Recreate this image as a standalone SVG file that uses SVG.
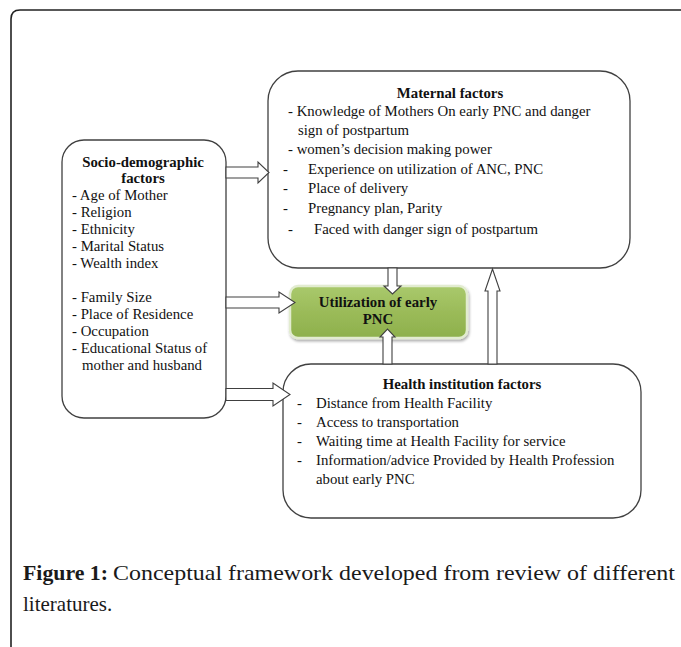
<svg xmlns="http://www.w3.org/2000/svg" width="681" height="647" viewBox="0 0 681 647">
<defs>
<style>
.box{fill:#fff;stroke:#404040;stroke-width:1.3}
.arr{fill:#fff;stroke:#404040;stroke-width:1.1;stroke-linejoin:miter}
text{font-family:"Liberation Serif","Times New Roman",serif;font-size:14.8px;fill:#111}
.t{font-weight:bold;text-anchor:middle}
.cap{font-size:21px;fill:#1a1a1a}
</style>
<linearGradient id="g" x1="0" y1="0" x2="0" y2="1">
<stop offset="0" stop-color="#a9c96c"/>
<stop offset="0.5" stop-color="#9bbb59"/>
<stop offset="1" stop-color="#8db04c"/>
</linearGradient>
<filter id="sh" x="-10%" y="-20%" width="120%" height="140%">
<feGaussianBlur in="SourceAlpha" stdDeviation="1.5"/>
<feOffset dx="1" dy="2"/>
<feComponentTransfer><feFuncA type="linear" slope="0.35"/></feComponentTransfer>
<feMerge><feMergeNode/><feMergeNode in="SourceGraphic"/></feMerge>
</filter>
</defs>
<rect width="681" height="647" fill="#fff"/>
<path d="M11 647 V19 Q11 10 20 10 H681" fill="none" stroke="#222" stroke-width="1.6"/>

<g id="socio">
<rect class="box" x="62" y="140" width="164" height="278" rx="22"/>
<text class="t" x="143" y="167">Socio-demographic</text>
<text class="t" x="143" y="183">factors</text>
<text x="72" y="200">- Age of Mother</text>
<text x="72" y="217">- Religion</text>
<text x="72" y="234">- Ethnicity</text>
<text x="72" y="251">- Marital Status</text>
<text x="72" y="268">- Wealth index</text>
<text x="72" y="302">- Family Size</text>
<text x="72" y="319">- Place of Residence</text>
<text x="72" y="336">- Occupation</text>
<text x="72" y="353">- Educational Status of</text>
<text x="82" y="370">mother and husband</text>
</g>

<g id="maternal">
<rect class="box" x="268" y="71" width="362" height="197" rx="30"/>
<text class="t" x="450" y="98">Maternal factors</text>
<text x="288" y="116">- Knowledge of Mothers On early PNC and danger</text>
<text x="298" y="135">sign of postpartum</text>
<text x="288" y="154">- women’s decision making power</text>
<text x="283" y="174">-</text><text x="308" y="174">Experience on utilization of ANC, PNC</text>
<text x="283" y="193">-</text><text x="308" y="193">Place of delivery</text>
<text x="283" y="213">-</text><text x="308" y="213">Pregnancy plan, Parity</text>
<text x="288" y="234">-</text><text x="314" y="234">Faced with danger sign of postpartum</text>
</g>

<g id="health">
<rect class="box" x="283" y="364" width="358" height="154" rx="28"/>
<text class="t" x="462" y="389">Health institution factors</text>
<text x="297" y="408">-</text><text x="316" y="408">Distance from Health Facility</text>
<text x="297" y="427">-</text><text x="316" y="427">Access to transportation</text>
<text x="297" y="446">-</text><text x="316" y="446">Waiting time at Health Facility for service</text>
<text x="297" y="465">-</text><text x="316" y="465">Information/advice Provided by Health Profession</text>
<text x="316" y="484">about early PNC</text>
</g>

<g id="outcome">
<rect x="290" y="286" width="177" height="52" rx="8" fill="url(#g)" stroke="#e2ecd0" stroke-width="2.5" filter="url(#sh)"/>
<text class="t" x="378" y="307">Utilization of early</text>
<text class="t" x="378" y="324">PNC</text>
</g>

<g id="connectors">
<polygon class="arr" points="226,167 258,167 258,162 269,172.5 258,183 258,178 226,178"/>
<polygon class="arr" points="226,297 279,297 279,292 295,302.5 279,313 279,308 226,308"/>
<polygon class="arr" points="226,388.5 273,388.5 273,383 290,394.5 273,406 273,400.5 226,400.5"/>
<polygon class="arr" points="388,268 397,268 397,286 401,286 392.5,294 384,286 388,286"/>
<polygon class="arr" points="383,364 392,364 392,337 395,337 387.5,329 380,337 383,337"/>
<polygon class="arr" points="488,364 497,364 497,291 500,291 492.5,269 485,291 488,291"/>
</g>

<g id="caption">
<text class="cap" x="23" y="580" font-weight="bold" textLength="85" lengthAdjust="spacingAndGlyphs">Figure 1:</text>
<text class="cap" x="113" y="580" textLength="562" lengthAdjust="spacingAndGlyphs">Conceptual framework developed from review of different</text>
<text class="cap" x="23" y="611">literatures.</text>
</g>
</svg>
